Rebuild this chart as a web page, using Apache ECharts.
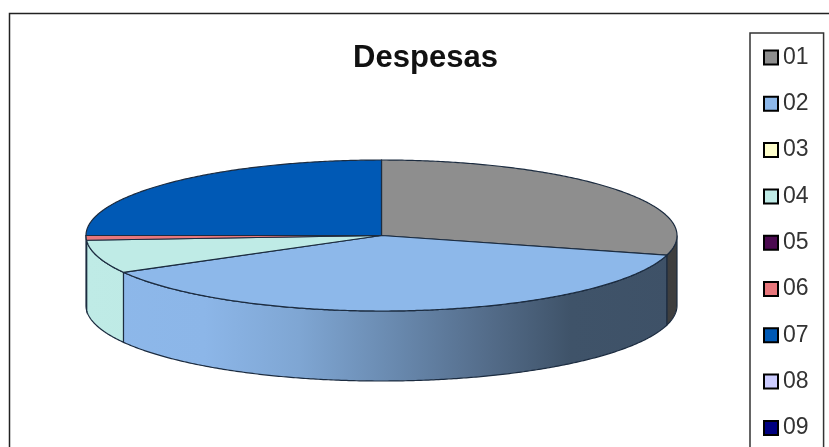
<!DOCTYPE html>
<html>
<head>
<meta charset="utf-8">
<style>html,body{margin:0;padding:0;background:#fff;overflow:hidden}#c{width:829px;height:447px}</style>
<script src="https://cdn.jsdelivr.net/npm/echarts@6/dist/echarts.min.js"></script>
</head>
<body>
<div id="c"></div>
<script>
const categories = ['01','02','03','04','05','06','07','08','09'];
const values = [29.2, 37.7, 0, 7.1, 0, 1.0, 25.0, 0, 0];
const colors = ['#8E8E8E','#8DB8EA','#FFFFCC','#BFEBE6','#4B0A50','#E8777C','#0059B5','#CCCCFF','#000080'];

const cx = 381.5, cy = 235.5, rx = 295.5, ry = 75.5, depth = 70;
const total = values.reduce((a, b) => a + b, 0);
const starts = [];
values.reduce((acc, v, i) => { starts[i] = acc; return acc + v; }, 0);

function pt(deg, dy) {
  const a = deg * Math.PI / 180;
  return [cx + rx * Math.sin(a), cy - ry * Math.cos(a) + (dy || 0)];
}
function shade(hex, f) {
  const n = parseInt(hex.slice(1), 16);
  const c = s => Math.round(((n >> s) & 255) * f);
  return 'rgb(' + c(16) + ',' + c(8) + ',' + c(0) + ')';
}
function wallFill(hex) {
  return new echarts.graphic.LinearGradient(86, 0, 677, 0, [
    {offset: 0, color: shade(hex, 1)},
    {offset: 0.2, color: shade(hex, 0.99)},
    {offset: 0.36, color: shade(hex, 0.9)},
    {offset: 0.53, color: shade(hex, 0.74)},
    {offset: 0.67, color: shade(hex, 0.6)},
    {offset: 0.82, color: shade(hex, 0.45)},
    {offset: 1, color: shade(hex, 0.44)}
  ], true);
}
const edge = '#1c2c40';

function sliceItem(i) {
  return function () {
    if (!values[i]) return null;
    const a0 = starts[i] / total * 360, a1 = (starts[i] + values[i]) / total * 360;
    const children = [];
    const w0 = Math.max(a0, 90), w1 = Math.min(a1, 270);
    if (w1 > w0) {
      const wall = [];
      for (let a = w0; a <= w1; a += 0.5) wall.push(pt(a, 0));
      wall.push(pt(w1, 0));
      wall.push(pt(w1, depth));
      for (let a = w1; a >= w0; a -= 0.5) wall.push(pt(a, depth));
      wall.push(pt(w0, depth));
      children.push({type: 'polygon', shape: {points: wall},
        style: {fill: wallFill(colors[i]), stroke: edge, lineWidth: 1.2}});
    }
    const top = [[cx, cy]];
    for (let a = a0; a < a1; a += 0.5) top.push(pt(a, 0));
    top.push(pt(a1, 0));
    children.push({type: 'polygon', shape: {points: top},
      style: {fill: colors[i], stroke: edge, lineWidth: 1.2}});
    return {type: 'group', children: children};
  };
}

const chart = echarts.init(document.getElementById('c'), null, {renderer: 'canvas'});
chart.setOption({
  animation: false,
  backgroundColor: '#fff',
  title: {
    text: 'Despesas', left: 420.5, top: 38, textAlign: 'center',
    textStyle: {fontFamily: 'Liberation Sans', fontWeight: 'bold', fontSize: 31, color: '#111'}
  },
  legend: {
    orient: 'vertical', left: 750, top: 33, height: 700,
    padding: [13, 15, 40, 13],
    data: categories, icon: 'rect',
    itemWidth: 14, itemHeight: 14, itemGap: 23.3, selectedMode: false,
    backgroundColor: '#fff', borderColor: '#333', borderWidth: 1.5,
    itemStyle: {borderColor: '#000', borderWidth: 2},
    textStyle: {fontFamily: 'Liberation Sans', fontSize: 23, color: '#333', lineHeight: 23}
  },
  graphic: [{
    type: 'rect', silent: true, z: -1,
    shape: {x: 9.5, y: 13.5, width: 900, height: 600},
    style: {fill: '#fff', stroke: '#222', lineWidth: 1.5}
  }],
  series: categories.map((name, i) => ({
    type: 'custom', name: name, coordinateSystem: 'none',
    itemStyle: {color: colors[i]},
    data: [values[i]],
    renderItem: sliceItem(i)
  }))
});
</script>
</body>
</html>
